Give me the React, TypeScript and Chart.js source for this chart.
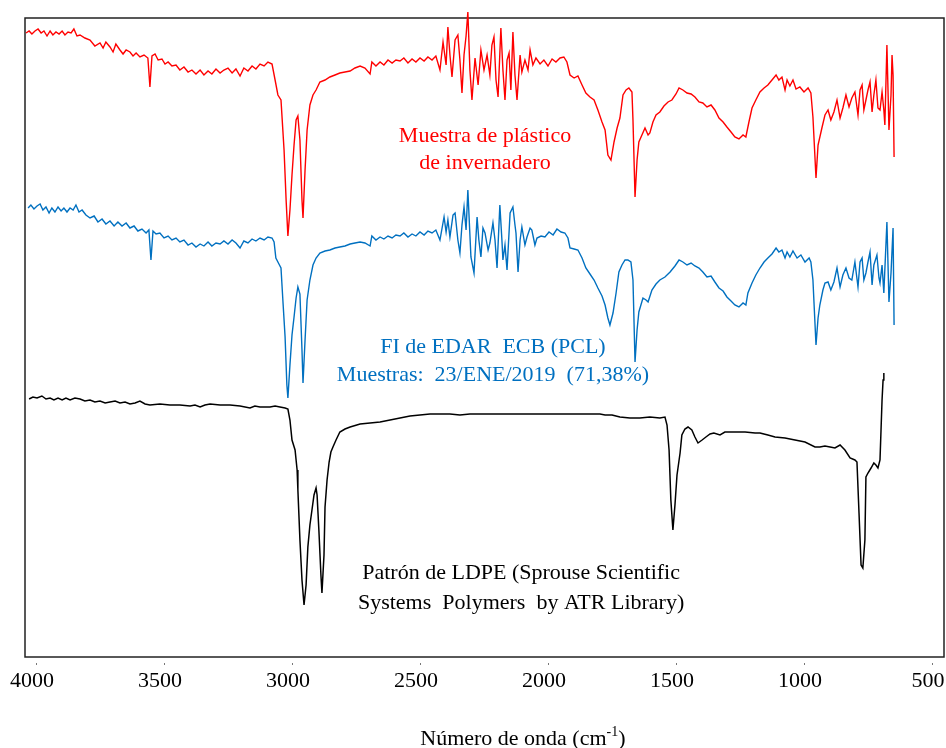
import { useEffect, useRef } from 'react';
import { Chart, registerables } from 'chart.js';

Chart.register(...registerables);

// ---- Data (wavenumber cm^-1, offset transmittance in arbitrary units) ----
const redWn = [
  4039, 4027, 4016, 4004, 3992, 3980, 3969, 3957, 3945, 3934,
  3922, 3910, 3898, 3887, 3875, 3863, 3852, 3840, 3828, 3809,
  3789, 3770, 3750, 3738, 3727, 3711, 3699, 3688, 3672, 3660,
  3648, 3633, 3621, 3609, 3594, 3578, 3563, 3555, 3547, 3535,
  3523, 3508, 3496, 3484, 3469, 3453, 3438, 3422, 3406, 3391,
  3375, 3359, 3344, 3328, 3313, 3297, 3281, 3266, 3250, 3234,
  3219, 3203, 3188, 3172, 3156, 3141, 3125, 3109, 3094, 3078,
  3066, 3055, 3043, 3031, 3023, 3016, 3008, 3000, 2992, 2984,
  2977, 2969, 2961, 2957, 2949, 2941, 2930, 2918, 2906, 2891,
  2871, 2852, 2832, 2813, 2793, 2773, 2754, 2734, 2715, 2695,
  2688, 2672, 2656, 2641, 2625, 2609, 2594, 2578, 2563, 2547,
  2531, 2516, 2500, 2484, 2469, 2453, 2438, 2422, 2410, 2398,
  2391, 2383, 2375, 2363, 2352, 2344, 2336, 2328, 2320, 2313,
  2305, 2297, 2285, 2273, 2262, 2250, 2238, 2227, 2219, 2211,
  2203, 2195, 2184, 2176, 2168, 2160, 2152, 2145, 2137, 2129,
  2121, 2109, 2102, 2090, 2078, 2070, 2059, 2047, 2031, 2016,
  2000, 1984, 1969, 1953, 1938, 1926, 1914, 1898, 1883, 1867,
  1852, 1836, 1820, 1805, 1789, 1777, 1766, 1754, 1742, 1730,
  1719, 1707, 1695, 1684, 1672, 1668, 1660, 1652, 1645, 1633,
  1621, 1609, 1602, 1590, 1578, 1563, 1547, 1531, 1516, 1500,
  1488, 1473, 1457, 1441, 1426, 1410, 1395, 1379, 1363, 1348,
  1332, 1316, 1301, 1285, 1270, 1254, 1238, 1227, 1215, 1203,
  1188, 1172, 1156, 1141, 1125, 1109, 1098, 1086, 1074, 1066,
  1055, 1043, 1031, 1016, 1000, 984, 973, 965, 953, 945,
  930, 918, 906, 895, 883, 871, 859, 848, 836, 824,
  813, 801, 789, 781, 773, 766, 758, 750, 742, 734,
  727, 719, 711, 703, 695, 688, 684, 676, 668, 660,
  656, 652, 648,
];
const redT = [
  624, 626, 623, 626, 628, 624, 626, 621, 626, 622,
  625, 623, 626, 622, 625, 624, 628, 621, 622, 619,
  617, 611, 614, 609, 615, 610, 605, 613, 607, 603,
  607, 605, 601, 604, 600, 602, 599, 570, 601, 603,
  597, 598, 593, 595, 591, 592, 587, 590, 585, 587,
  583, 587, 582, 586, 583, 588, 584, 587, 589, 584,
  588, 581, 589, 586, 591, 588, 593, 591, 595, 593,
  577, 562, 557, 507, 457, 421, 447, 482, 512, 537,
  541, 517, 457, 439, 487, 527, 552, 562, 567, 575,
  577, 580, 582, 584, 585, 586, 589, 591, 589, 583,
  595, 591, 595, 592, 597, 594, 597, 596, 599, 594,
  598, 595, 599, 596, 600, 597, 601, 587, 615, 592,
  630, 602, 580, 617, 622, 597, 564, 602, 621, 645,
  587, 557, 599, 572, 607, 587, 602, 582, 612, 620,
  577, 560, 629, 587, 557, 597, 604, 567, 625, 582,
  557, 602, 585, 597, 587, 607, 592, 599, 593, 597,
  591, 598, 595, 599, 600, 595, 582, 579, 581, 572,
  564, 560, 557, 547, 535, 527, 502, 497, 515, 529,
  539, 562, 567, 569, 565, 537, 460, 497, 515, 522,
  529, 522, 524, 535, 542, 545, 551, 555, 557, 563,
  569, 567, 564, 563, 560, 555, 554, 550, 552, 547,
  539, 535, 530, 525, 520, 518, 522, 520, 535, 549,
  557, 565, 569, 572, 577, 582, 577, 580, 567, 577,
  571, 577, 568, 570, 565, 569, 564, 540, 479, 512,
  529, 542, 547, 537, 545, 557, 539, 549, 562, 550,
  559, 565, 542, 567, 572, 547, 557, 567, 575, 545,
  562, 577, 549, 547, 565, 547, 532, 612, 527, 562,
  602, 582, 500,
];

const blueWn = [
  4031, 4020, 4008, 3996, 3984, 3973, 3961, 3949, 3938, 3926,
  3914, 3902, 3891, 3879, 3867, 3855, 3844, 3832, 3820, 3805,
  3789, 3773, 3758, 3742, 3727, 3711, 3695, 3680, 3664, 3648,
  3633, 3617, 3602, 3586, 3570, 3559, 3551, 3543, 3531, 3516,
  3500, 3484, 3469, 3453, 3438, 3422, 3406, 3391, 3375, 3359,
  3344, 3328, 3313, 3297, 3281, 3266, 3250, 3234, 3219, 3203,
  3188, 3172, 3156, 3141, 3125, 3109, 3094, 3078, 3070, 3063,
  3051, 3043, 3035, 3027, 3020, 3016, 3008, 3000, 2992, 2984,
  2977, 2969, 2961, 2957, 2949, 2941, 2930, 2918, 2906, 2891,
  2871, 2852, 2832, 2813, 2793, 2773, 2754, 2734, 2715, 2695,
  2688, 2672, 2656, 2641, 2625, 2609, 2594, 2578, 2563, 2547,
  2531, 2516, 2500, 2484, 2469, 2453, 2438, 2422, 2406, 2398,
  2391, 2383, 2371, 2363, 2352, 2344, 2336, 2328, 2320, 2313,
  2305, 2301, 2289, 2277, 2270, 2262, 2254, 2246, 2234, 2227,
  2215, 2207, 2199, 2188, 2180, 2176, 2168, 2160, 2148, 2137,
  2129, 2125, 2117, 2109, 2102, 2090, 2082, 2070, 2063, 2051,
  2043, 2027, 2012, 1996, 1980, 1965, 1949, 1934, 1922, 1914,
  1898, 1883, 1867, 1852, 1836, 1820, 1805, 1789, 1777, 1766,
  1758, 1746, 1734, 1723, 1711, 1699, 1688, 1676, 1668, 1660,
  1652, 1645, 1629, 1617, 1609, 1594, 1578, 1563, 1543, 1523,
  1504, 1488, 1473, 1457, 1441, 1426, 1410, 1395, 1379, 1363,
  1348, 1332, 1316, 1301, 1285, 1270, 1254, 1238, 1227, 1219,
  1203, 1188, 1172, 1156, 1141, 1125, 1109, 1098, 1086, 1074,
  1066, 1055, 1043, 1027, 1012, 996, 980, 973, 965, 953,
  945, 938, 926, 918, 906, 895, 883, 871, 859, 848,
  836, 824, 813, 801, 789, 781, 773, 766, 758, 750,
  742, 734, 727, 715, 707, 703, 695, 688, 676, 668,
  660, 652, 648,
];
const blueT = [
  449, 452, 448, 451, 453, 447, 450, 444, 449, 445,
  450, 446, 449, 445, 449, 447, 452, 445, 447, 442,
  439, 441, 435, 438, 433, 436, 431, 435, 431, 434,
  429, 431, 426, 428, 424, 427, 397, 426, 423, 424,
  419, 421, 417, 419, 415, 417, 412, 414, 410, 413,
  411, 415, 411, 414, 413, 416, 413, 417, 414, 409,
  416, 414, 418, 416, 419, 417, 420, 419, 415, 399,
  393, 389, 354, 320, 272, 259, 292, 322, 340, 359,
  370, 363, 307, 274, 317, 357, 377, 392, 399, 404,
  406, 407, 409, 410, 411, 413, 414, 415, 414, 411,
  421, 417, 420, 418, 421, 419, 422, 421, 424, 420,
  423, 421, 425, 422, 426, 424, 427, 417, 440, 425,
  437, 420, 442, 444, 417, 404, 432, 450, 427, 467,
  422, 400, 384, 440, 417, 400, 429, 424, 407, 414,
  434, 417, 389, 452, 417, 397, 412, 387, 444, 450,
  432, 424, 385, 417, 430, 412, 420, 429, 427, 412,
  419, 421, 420, 425, 422, 428, 425, 424, 419, 409,
  408, 407, 399, 389, 383, 377, 369, 361, 352, 339,
  332, 344, 364, 385, 392, 397, 397, 395, 377, 295,
  327, 345, 359, 357, 355, 367, 373, 377, 380, 385,
  391, 397, 395, 392, 394, 391, 389, 385, 380, 381,
  375, 369, 366, 360, 356, 352, 350, 354, 352, 364,
  374, 382, 389, 395, 399, 403, 409, 405, 407, 399,
  405, 400, 406, 399, 402, 395, 399, 395, 377, 312,
  339, 352, 367, 374, 375, 367, 375, 389, 370, 382,
  389, 379, 377, 395, 370, 395, 399, 377, 384, 395,
  405, 372, 392, 402, 379, 374, 392, 364, 435, 355,
  384, 429, 332,
];

const blackWn = [
  4027, 4012, 3996, 3977, 3961, 3945, 3930, 3914, 3898, 3883,
  3867, 3848, 3828, 3809, 3789, 3770, 3750, 3730, 3711, 3691,
  3672, 3652, 3633, 3613, 3594, 3574, 3555, 3516, 3477, 3438,
  3398, 3379, 3359, 3340, 3320, 3281, 3242, 3203, 3164, 3145,
  3125, 3086, 3066, 3047, 3027, 3016, 3008, 3000, 2988, 2980,
  2977, 2969, 2961, 2953, 2945, 2938, 2930, 2922, 2914, 2906,
  2902, 2895, 2887, 2883, 2875, 2871, 2863, 2855, 2848, 2840,
  2828, 2813, 2793, 2773, 2734, 2695, 2656, 2617, 2578, 2539,
  2500, 2461, 2422, 2383, 2344, 2305, 2266, 2188, 2109, 2031,
  1953, 1875, 1797, 1777, 1750, 1719, 1680, 1641, 1602, 1563,
  1543, 1535, 1527, 1520, 1512, 1504, 1496, 1484, 1477, 1465,
  1453, 1438, 1426, 1414, 1398, 1383, 1367, 1352, 1328, 1309,
  1270, 1230, 1191, 1172, 1141, 1113, 1074, 1035, 996, 957,
  938, 918, 898, 879, 859, 840, 820, 801, 793, 785,
  777, 770, 762, 758, 750, 738, 727, 719, 711, 703,
  699, 695, 691, 688,
];
const blackT = [
  258, 260, 259, 261, 258, 259, 257, 259, 257, 259,
  257, 259, 258, 256, 257, 255, 256, 254, 255, 256,
  254, 255, 253, 254, 256, 253, 252, 253, 252, 252,
  251, 252, 250, 252, 253, 252, 252, 251, 249, 251,
  250, 250, 251, 250, 249, 248, 237, 217, 207, 187,
  167, 117, 77, 52, 72, 110, 132, 147, 162, 169,
  162, 127, 82, 64, 102, 150, 177, 195, 205, 210,
  217, 225, 228, 230, 233, 234, 235, 237, 239, 241,
  242, 243, 243, 243, 242, 243, 243, 243, 243, 243,
  243, 243, 243, 242, 242, 240, 239, 239, 240, 239,
  240, 232, 207, 157, 127, 152, 182, 204, 222, 228,
  230, 227, 220, 214, 217, 220, 223, 224, 222, 225,
  225, 225, 224, 224, 222, 220, 219, 217, 215, 210,
  210, 211, 210, 209, 212, 207, 199, 197, 195, 144,
  92, 89, 117, 180, 184, 189, 194, 192, 189, 197,
  227, 257, 277, 284,
];

const xTickValues = [4000, 3500, 3000, 2500, 2000, 1500, 1000, 500];

const seriesColors = { red: '#FF0000', blue: '#0070C0', black: '#000000' };

// Text annotations (anchored in data coordinates)
const annotations = [
  { text: 'Muestra de plástico', wn: 2246, t: 521, color: seriesColors.red },
  { text: 'de invernadero', wn: 2246, t: 494, color: seriesColors.red },
  { text: 'FI de EDAR  ECB (PCL)', wn: 2215, t: 310, color: seriesColors.blue },
  { text: 'Muestras:  23/ENE/2019  (71,38%)', wn: 2215, t: 282, color: seriesColors.blue },
  { text: 'Patrón de LDPE (Sprouse Scientific', wn: 2105, t: 84, color: seriesColors.black },
  { text: 'Systems  Polymers  by ATR Library)', wn: 2105, t: 54, color: seriesColors.black },
];

const axisTitle = { main: 'Número de onda (cm', sup: '-1', end: ')', wn: 2098 };

const FONT = '"Liberation Serif", "Times New Roman", serif';

function toPoints(xs: number[], ys: number[]) {
  const n = Math.min(xs.length, ys.length);
  const out: { x: number; y: number }[] = [];
  for (let i = 0; i < n; i++) out.push({ x: xs[i], y: ys[i] });
  return out;
}

const framePlugin = {
  id: 'frame',
  beforeDatasetsDraw(chart: any) {
    const { ctx, chartArea } = chart;
    ctx.save();
    ctx.strokeStyle = '#222';
    ctx.lineWidth = 1.5;
    ctx.strokeRect(chartArea.left, chartArea.top, chartArea.right - chartArea.left, chartArea.bottom - chartArea.top);
    // small tick dots below the axis
    const xs = chart.scales.x;
    ctx.fillStyle = '#777';
    for (const v of xTickValues) {
      const px = Math.round(xs.getPixelForValue(v));
      ctx.fillRect(px, chartArea.bottom + 6, 1, 2);
    }
    ctx.restore();
  },
};

const textPlugin = {
  id: 'texts',
  afterDatasetsDraw(chart: any) {
    const { ctx } = chart;
    const xs = chart.scales.x;
    const ys = chart.scales.y;
    ctx.save();
    ctx.font = `22px ${FONT}`;
    ctx.textAlign = 'center';
    ctx.textBaseline = 'middle';
    for (const a of annotations) {
      ctx.fillStyle = a.color;
      ctx.fillText(a.text, xs.getPixelForValue(a.wn), ys.getPixelForValue(a.t));
    }
    // axis title with superscript
    const cx = xs.getPixelForValue(axisTitle.wn);
    const baseY = chart.height - 3;
    ctx.textAlign = 'left';
    ctx.textBaseline = 'alphabetic';
    ctx.fillStyle = '#000';
    ctx.font = `22px ${FONT}`;
    const w1 = ctx.measureText(axisTitle.main).width;
    const w3 = ctx.measureText(axisTitle.end).width;
    ctx.font = `14px ${FONT}`;
    const w2 = ctx.measureText(axisTitle.sup).width;
    let x0 = cx - (w1 + w2 + w3) / 2;
    ctx.font = `22px ${FONT}`;
    ctx.fillText(axisTitle.main, x0, baseY);
    x0 += w1;
    ctx.font = `14px ${FONT}`;
    ctx.fillText(axisTitle.sup, x0, baseY - 9);
    x0 += w2;
    ctx.font = `22px ${FONT}`;
    ctx.fillText(axisTitle.end, x0, baseY);
    ctx.restore();
  },
};

export default function App() {
  const ref = useRef<HTMLCanvasElement>(null);
  useEffect(() => {
    document.body.style.margin = '0';
    const canvas = ref.current;
    if (!canvas) return;
    const chart = new Chart(canvas, {
      type: 'line',
      data: {
        datasets: [
          {
            label: 'Muestra de plástico de invernadero',
            data: toPoints(redWn, redT),
            borderColor: seriesColors.red,
            borderWidth: 1.4,
            pointRadius: 0,
            tension: 0,
            clip: false as any,
          },
          {
            label: 'FI de EDAR ECB (PCL)',
            data: toPoints(blueWn, blueT),
            borderColor: seriesColors.blue,
            borderWidth: 1.4,
            pointRadius: 0,
            tension: 0,
            clip: false as any,
          },
          {
            label: 'Patrón de LDPE',
            data: toPoints(blackWn, blackT),
            borderColor: seriesColors.black,
            borderWidth: 1.5,
            pointRadius: 0,
            tension: 0,
            clip: false as any,
          },
        ],
      },
      options: {
        animation: false,
        responsive: false,
        devicePixelRatio: 1,
        parsing: false as any,
        layout: { padding: { left: 25, right: 2, top: 18, bottom: 0 } },
        plugins: { legend: { display: false }, tooltip: { enabled: false } },
        scales: {
          x: {
            type: 'linear',
            reverse: true,
            min: 453,
            max: 4043,
            grid: { display: false, drawTicks: false },
            border: { display: false },
            afterBuildTicks: (scale: any) => {
              scale.ticks = xTickValues.map((v) => ({ value: v }));
            },
            afterFit: (scale: any) => {
              scale.height = 91;
              scale.paddingLeft = 0;
              scale.paddingRight = 0;
              scale.paddingTop = 0;
              scale.paddingBottom = 0;
            },
            ticks: {
              padding: 11,
              labelOffset: -4,
              maxRotation: 0,
              autoSkip: false,
              color: '#000',
              font: { family: FONT, size: 22 },
              callback: (v: any) => String(v),
            },
          },
          y: {
            type: 'linear',
            min: 0,
            max: 639,
            display: false,
          },
        },
      },
      plugins: [framePlugin, textPlugin],
    });
    return () => chart.destroy();
  }, []);
  return (
    <div style={{ width: 946, height: 748 }}>
      <canvas ref={ref} width={946} height={748} style={{ display: 'block', width: 946, height: 748 }} />
    </div>
  );
}
